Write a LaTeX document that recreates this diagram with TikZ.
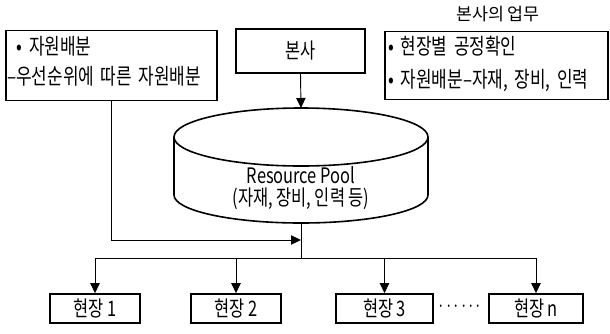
\documentclass[tikz,border=0pt]{standalone}
\usepackage{fontspec}
\setmainfont[FakeStretch=0.77]{Noto Sans CJK KR}
\newfontfamily\krwide{Noto Sans CJK KR}
\usetikzlibrary{arrows.meta}
\begin{document}
\begin{tikzpicture}[x=0.75pt,y=-0.75pt,
  box/.style={draw, line width=1.2pt, inner sep=0pt},
  conn/.style={line width=0.7pt},
  arr/.style={conn, -{Triangle[length=7.5pt,width=7pt]}},
  txt/.style={font=\fontsize{16}{20}\selectfont},
  para/.style={inner sep=0pt, anchor=west, align=left,
    execute at begin node={\spaceskip=5pt\relax}}]
\useasboundingbox (0,0) rectangle (610,333);

% top boxes
\node[box, minimum width=158.25pt, minimum height=52.5pt] (lbox) at (111.5,65.5) {};
\node[para, text width=160pt, font=\fontsize{16.5}{22.5}\selectfont] (ltext) at (7,61)
  {\hspace*{7pt}• 자원배분\\–우선순위에 따른 자원배분};

\node[box, txt, minimum width=96.75pt, minimum height=33pt] (hq) at (300.5,51) {본사};

\node[box, minimum width=167.25pt, minimum height=51pt] (rbox) at (496.5,65.5) {};
\node[para, text width=165pt, font=\fontsize{16.5}{24.75}\selectfont] (rtext) at (388,63.5)
  {• 현장별 공정확인\\• 자원배분–자재, 장비, 인력};
\node[font=\krwide\fontsize{13}{15}\selectfont] (rhead) at (498,14) {본사의 업무};

% cylinder
\draw[box] (174,137) arc[start angle=180, end angle=360, x radius=127, y radius=29]
  -- (428,195) arc[start angle=0, end angle=180, x radius=127, y radius=28] -- cycle;
\draw[box] (428,137) arc[start angle=0, end angle=180, x radius=127, y radius=29];
\coordinate (pooltop) at (301,108);
\coordinate (poolbot) at (301,223);
\node[font=\fontsize{16}{16.5}\selectfont, align=center] (pool) at (301,188)
  {Resource Pool\\(자재, 장비, 인력 등)};

% bottom boxes
\tikzset{site/.style={box, txt, minimum height=21.75pt,
  execute at begin node={\spaceskip=2.5pt\relax}}}
\node[site, minimum width=67.5pt] (h1) at (95,308.5) {현장 1};
\node[site, minimum width=67.5pt] (h2) at (236,308.5) {현장 2};
\node[site, minimum width=72.75pt] (h3) at (384.5,308.5) {현장 3};
\node[site, minimum width=70.5pt] (hn) at (536,308.5) {현장 n};
\node[font=\fontsize{13}{15}\selectfont] (dots) at (460,309) {······};

% connectors
\draw[arr] (hq.south) -- (pooltop);
\coordinate (join) at (301,240);
\draw[arr] (lbox.south) |- (join);
\coordinate (bus) at (301,258);
\draw[conn] (poolbot) -- (bus);
\draw[conn] (h1.north |- bus) -- (hn.north |- bus);
\foreach \n in {h1,h2,h3,hn} \draw[arr] (\n.north |- bus) -- (\n.north);
\end{tikzpicture}
\end{document}
